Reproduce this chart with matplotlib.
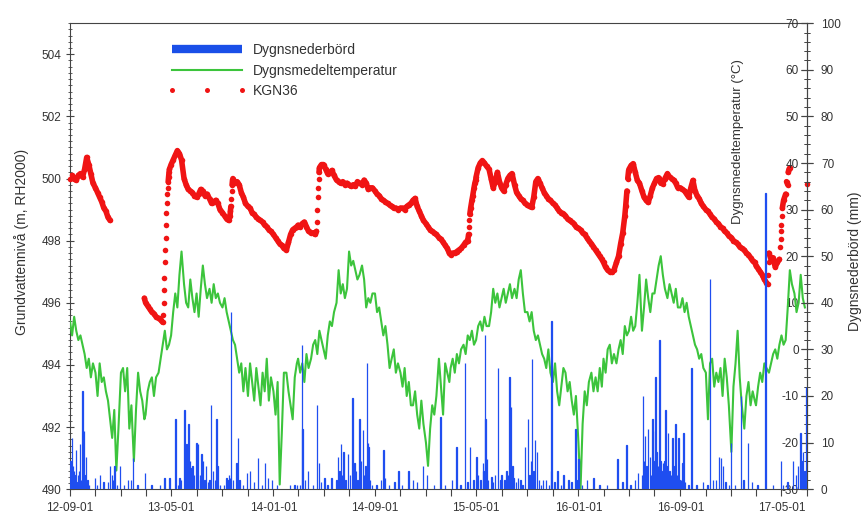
import numpy as np
import pandas as pd
import matplotlib
matplotlib.use("Agg")
import matplotlib.pyplot as plt
import matplotlib.dates as mdates
from matplotlib.lines import Line2D
from matplotlib.ticker import MultipleLocator, FixedLocator

plt.rcParams['font.family'] = ['Liberation Sans', 'DejaVu Sans']
plt.rcParams['axes.unicode_minus'] = False

nan = np.nan
SLOT_DAYS = [1, 6, 11, 16, 21, 26]   # six readings per month

# Dygnsmedeltemperatur (°C), rows = months
temp_2012 = [
    6, 3, 7, 4, 2, 3,
    1, -1, -4, -2, -6, -3,
    -5, -10, -3, -7, -6, -9,
    -11, -15, -19, -13, -26, -17,
]
temp_2013 = [
    -5, -4, -9, -4, -17, -12,
    -24, -13, -5, -9, -11, -15,
    -14, -9, -7, -6, -10, -6,
    -5, -2, 1, 4, 0, 1,
    3, 8, 12, 9, 16, 21,
    14, 10, 9, 15, 11, 8,
    12, 7, 13, 18, 14, 11,
    13, 10, 14, 11, 12, 10,
    9, 11, 8, 6, 4, 2,
    1, -2, -5, -3, -9, -4,
    -10, -3, -7, -11, -4, -8,
    -12, -5, -9, -2, -11, -6,
]
temp_2014 = [
    -9, -14, -7, -29, -18, -5,
    -5, -9, -12, -15, -6, -3,
    -2, -5, -3, -7, -1, -4,
    -2, 1, 2, -1, 4, 2,
    0, -2, 3, 6, 5, 8,
    10, 17, 12, 14, 11, 13,
    21, 18, 19, 17, 15, 16,
    18, 15, 9, 11, 10, 12,
    12, 8, 9, 6, 3, 5,
    1, -4, -2, 0, -5, -3,
    -5, -8, -4, -10, -7, -12,
    -12, -9, -14, -17, -11, -16,
]
temp_2015 = [
    -20, -25, -17, -12, -14, -10,
    -2, -8, -14, -3, -5, -7,
    -4, -2, -5, -1, -3, 0,
    1, -1, 3, 2, 4, 1,
    2, 5, 6, 4, 7, 5,
    5, 8, 13, 10, 12, 9,
    11, 13, 10, 12, 14, 11,
    13, 11, 15, 17, 12, 8,
    8, 6, 8, 4, 2, 3,
    1, -1, -2, -4, 0, -5,
    -7, -3, -9, -12, -8, -4,
    -5, -9, -7, -11, -14, -10,
]
temp_2016 = [
    -20, -30, -16, -9, -12, -7,
    -5, -9, -6, -9, -4, -8,
    -2, -5, 0, 1, -3, -1,
    -3, 0, 2, -1, 5, 3,
    4, 7, 4, 5, 10, 16,
    4, 9, 15, 11, 8, 12,
    12, 15, 18, 20, 16, 13,
    11, 14, 12, 10, 13, 9,
    9, 11, 8, 10, 7, 5,
    3, 1, 0, -2, -1, -4,
    -5, -15, -3, -2, -8, -5,
    -7, -4, -10, -2, -6, -12,
]
temp_2017 = [
    -22, -8, -3, 4, -6, -12,
    -17, -10, -7, -12, -9, -11,
    -12, -8, -5, -7, -3, -4,
    -5, -3, -1, 0, -2, 1,
    3, 1, 2, 9, 17, 14,
    12, 8, 10, 16, 11, 9,
]

# KGN36 grundvattennivå (m, RH2000), rows = months, nan = no data
level_2012 = [
    500.0, 500.1, 500.0, 499.95, 500.1, 500.16,
    500.05, 500.3, 500.68, 500.45, 500.15, 499.85,
    499.7, 499.55, 499.4, 499.25, 499.05, 498.95,
    498.75, 498.65, nan, nan, nan, nan,
]
level_2013 = [
    nan, nan, nan, nan, nan, nan,
    nan, nan, nan, nan, nan, 496.15,
    496.0, 495.9, 495.8, 495.7, 495.65, 495.55,
    495.5, 495.45, 495.37, 497.3, 499.2, 500.2,
    500.45, 500.6, 500.75, 500.9, 500.8, 500.6,
    500.0, 499.8, 499.65, 499.6, 499.55, 499.45,
    499.4, 499.5, 499.65, 499.6, 499.45, 499.5,
    499.35, 499.2, 499.25, 499.3, 499.2, 499.0,
    498.9, 498.8, 498.7, 498.65, 499.1, 500.0,
    499.85, 499.9, 499.8, 499.55, 499.4, 499.2,
    499.1, 499.05, 498.9, 498.85, 498.75, 498.7,
    498.65, 498.6, 498.5, 498.45, 498.35, 498.3,
]
level_2014 = [
    498.2, 498.1, 498.0, 497.9, 497.85, 497.75,
    497.7, 497.95, 498.2, 498.35, 498.4, 498.45,
    498.5, 498.45, 498.55, 498.6, 498.45, 498.3,
    498.25, 498.25, 498.2, 499.0, 500.35, 500.45,
    500.45, 500.3, 500.15, 500.2, 500.26, 500.1,
    499.95, 499.9, 499.85, 499.9, 499.8, 499.85,
    499.8, 499.75, 499.8, 499.75, 499.9, 499.85,
    499.8, 499.95, 499.85, 499.65, 499.7, 499.7,
    499.6, 499.5, 499.45, 499.35, 499.3, 499.25,
    499.2, 499.15, 499.1, 499.05, 499.05, 499.0,
    499.05, 499.05, 499.0, 499.1, 499.15, 499.2,
    499.3, 499.36, 499.1, 498.95, 498.8, 498.65,
]
level_2015 = [
    498.55, 498.45, 498.35, 498.3, 498.25, 498.2,
    498.1, 498.05, 497.95, 497.85, 497.75, 497.6,
    497.55, 497.6, 497.6, 497.65, 497.7, 497.75,
    497.85, 497.95, 498.0, 498.85, 499.3, 499.7,
    500.05, 500.35, 500.5, 500.58, 500.5, 500.4,
    500.3, 500.0, 499.7, 499.9, 500.2, 499.9,
    499.7, 499.6, 499.8, 500.0, 500.1, 500.16,
    499.8, 499.55, 499.45, 499.35, 499.3, 499.2,
    499.15, 499.1, 499.07, 499.4, 499.9, 500.0,
    499.85, 499.7, 499.55, 499.45, 499.35, 499.3,
    499.2, 499.15, 499.05, 498.95, 498.9, 498.87,
    498.8, 498.7, 498.65, 498.6, 498.55, 498.45,
]
level_2016 = [
    498.4, 498.35, 498.25, 498.2, 498.1, 498.0,
    497.9, 497.8, 497.7, 497.6, 497.5, 497.4,
    497.3, 497.15, 497.05, 497.0, 496.98, 497.05,
    497.3, 497.5, 497.9, 498.25, 498.8, 499.6,
    500.3, 500.42, 500.48, 500.2, 499.94, 499.85,
    499.6, 499.4, 499.3, 499.23, 499.45, 499.7,
    499.85, 500.0, 500.03, 499.85, 499.84, 500.0,
    500.16, 500.05, 500.0, 499.95, 499.85, 499.7,
    499.7, 499.65, 499.6, 499.5, 499.4, 499.7,
    499.94, 499.6, 499.45, 499.35, 499.2, 499.1,
    499.0, 498.95, 498.85, 498.75, 498.7, 498.6,
    498.55, 498.45, 498.4, 498.3, 498.25, 498.15,
]
level_2017 = [
    498.1, 498.0, 497.95, 497.9, 497.8, 497.75,
    497.7, 497.6, 497.55, 497.45, 497.35, 497.3,
    497.2, 497.1, 497.0, 496.9, 496.75, 496.65,
    497.6, 497.4, 497.45, 497.15, 497.3, 497.4,
    498.5, 499.3, 499.5, 499.8, 500.35, nan,
    nan, nan, nan, nan, nan, nan,
]

# extra logger readings during the fast rises
level_extra = [
    ("2013-04-12", 495.6), ("2013-04-13", 496.0), ("2013-04-14", 496.4),
    ("2013-04-15", 496.8), ("2013-04-17", 497.7), ("2013-04-18", 498.1),
    ("2013-04-19", 498.5), ("2013-04-20", 498.9), ("2013-04-22", 499.5),
    ("2013-04-23", 499.7), ("2013-04-24", 499.9), ("2013-04-25", 500.05),
    ("2013-04-27", 500.3),
    ("2013-09-19", 498.8), ("2013-09-20", 498.95), ("2013-09-22", 499.35),
    ("2013-09-23", 499.6), ("2013-09-24", 499.8), ("2013-09-25", 499.95),
    ("2014-04-14", 498.3), ("2014-04-15", 498.6), ("2014-04-17", 499.4),
    ("2014-04-18", 499.7), ("2014-04-19", 500.0), ("2014-04-20", 500.2),
    ("2015-04-13", 498.2), ("2015-04-14", 498.45), ("2015-04-15", 498.65),
    ("2015-04-18", 499.05), ("2015-04-23", 499.45), ("2015-04-28", 499.85),
    ("2015-04-30", 499.95),
    ("2016-04-23", 499.1), ("2016-04-28", 500.0), ("2016-04-30", 500.25),
    ("2017-03-29", 496.6), ("2017-03-30", 496.9), ("2017-03-31", 497.3),
    ("2017-04-28", 497.8), ("2017-04-29", 498.05), ("2017-04-30", 498.3),
    ("2017-05-02", 498.8), ("2017-05-03", 499.05), ("2017-05-13", 499.9),
    ("2017-05-17", 500.2), ("2017-05-19", 500.3), ("2017-07-01", 499.84),
]

# Dygnsnederbörd (mm), (month-day, mm) per year
rain_2012 = [
    ("09-02", 6), ("09-03", 2), ("09-06", 11), ("09-08", 5), ("09-10", 4),
    ("09-12", 3), ("09-15", 8.5), ("09-17", 1.5), ("09-20", 3), ("09-22", 4),
    ("09-25", 9.6), ("09-28", 2), ("10-01", 21), ("10-04", 12.5), ("10-06", 3),
    ("10-09", 7), ("10-13", 2), ("10-16", 1), ("10-31", 2.4), ("11-05", 1),
    ("11-12", 3), ("11-20", 1.5), ("12-01", 1.5), ("12-06", 5), ("12-10", 3),
    ("12-13", 2), ("12-17", 5), ("12-22", 1), ("12-30", 5),
]
rain_2013 = [
    ("01-08", 1), ("01-18", 2), ("01-25", 2), ("01-30", 6.7), ("02-10", 1),
    ("02-28", 3.5), ("03-15", 1), ("04-05", 1), ("04-15", 2.5), ("04-27", 2.5),
    ("05-12", 15), ("05-17", 1), ("05-21", 2.5), ("05-25", 2), ("06-02", 17),
    ("06-05", 3), ("06-07", 9.6), ("06-09", 2), ("06-12", 14), ("06-15", 6),
    ("06-19", 4.6), ("06-21", 5), ("06-25", 3), ("07-01", 10), ("07-03", 2),
    ("07-05", 9.6), ("07-09", 3), ("07-13", 7.5), ("07-17", 6), ("07-20", 2),
    ("07-24", 5), ("07-28", 1.5), ("08-01", 2), ("08-04", 18), ("08-10", 4),
    ("08-14", 2), ("08-18", 15), ("08-20", 5), ("08-26", 1), ("09-05", 1),
    ("09-11", 2.3), ("09-13", 2), ("09-16", 3), ("09-19", 2.5), ("09-21", 38),
    ("09-26", 2), ("10-05", 5.7), ("10-08", 11), ("10-12", 2), ("10-20", 1),
    ("10-30", 3.5), ("11-06", 4), ("11-15", 1.5), ("11-25", 6.7), ("12-05", 1),
    ("12-12", 5.6), ("12-19", 2.5), ("12-28", 2),
]
rain_2014 = [
    ("01-10", 1), ("02-10", 1), ("02-20", 1), ("02-27", 1), ("03-05", 1),
    ("03-10", 31), ("03-12", 13), ("03-17", 2), ("03-24", 4), ("04-05", 1),
    ("04-15", 18), ("04-20", 5.6), ("04-25", 1.5), ("05-03", 2.5), ("05-10", 1),
    ("05-20", 2.5), ("06-01", 2), ("06-04", 7), ("06-08", 4), ("06-11", 9.6),
    ("06-14", 3), ("06-18", 8), ("06-22", 2), ("06-28", 7.5), ("07-03", 3),
    ("07-09", 19.5), ("07-14", 5.6), ("07-18", 4), ("07-21", 2), ("07-26", 15),
    ("07-30", 6), ("08-03", 12.7), ("08-06", 3), ("08-09", 5), ("08-13", 27),
    ("08-15", 10), ("08-17", 9), ("08-20", 2), ("08-25", 1), ("09-05", 1),
    ("09-15", 2), ("09-21", 8.4), ("09-25", 2.5), ("10-05", 1), ("10-18", 1.5),
    ("10-27", 4), ("11-05", 1), ("11-20", 4), ("12-01", 2), ("12-10", 1.5),
    ("12-25", 5),
]
rain_2015 = [
    ("01-03", 3), ("01-20", 1), ("02-05", 15.5), ("02-15", 1), ("03-05", 2),
    ("03-15", 9), ("03-25", 1), ("04-04", 27), ("04-10", 1.5), ("04-16", 9),
    ("04-25", 2), ("05-02", 7), ("05-06", 3), ("05-12", 2), ("05-17", 5.7),
    ("05-19", 4), ("05-22", 33), ("05-24", 15), ("05-27", 6.4), ("05-30", 2),
    ("06-07", 2.6), ("06-10", 1.5), ("06-15", 3), ("06-22", 26), ("06-28", 2),
    ("07-01", 3), ("07-08", 2), ("07-13", 4), ("07-17", 3), ("07-20", 24),
    ("07-24", 17.6), ("07-27", 5), ("07-30", 2.5), ("08-04", 1.5), ("08-09", 2.5),
    ("08-15", 2), ("08-20", 1), ("08-26", 9), ("09-02", 15), ("09-06", 3),
    ("09-09", 6), ("09-12", 28), ("09-15", 4), ("09-19", 10.5), ("09-24", 8),
    ("09-28", 2), ("10-03", 1), ("10-08", 2), ("10-15", 2), ("10-22", 1),
    ("10-27", 4), ("10-29", 36), ("11-05", 1.5), ("11-12", 4), ("11-20", 1),
    ("11-26", 3), ("12-08", 2), ("12-15", 1.5), ("12-25", 13), ("12-30", 2),
]
rain_2016 = [
    ("01-01", 6.4), ("01-10", 1), ("01-22", 2), ("02-06", 2.3), ("02-20", 1),
    ("03-10", 1), ("04-03", 6.5), ("04-15", 1.5), ("04-25", 9.4), ("05-05", 1),
    ("05-15", 2), ("05-23", 3.5), ("06-01", 3), ("06-04", 20), ("06-06", 6),
    ("06-09", 11.5), ("06-12", 5), ("06-16", 13), ("06-20", 7), ("06-23", 3),
    ("06-26", 15), ("06-28", 12.5), ("07-01", 6), ("07-03", 24), ("07-06", 8),
    ("07-09", 5), ("07-13", 32), ("07-15", 6), ("07-18", 4), ("07-22", 5.6),
    ("07-25", 6), ("07-27", 17), ("07-30", 5), ("08-03", 12), ("08-06", 4),
    ("08-10", 3), ("08-13", 11), ("08-16", 5), ("08-20", 14), ("08-24", 3),
    ("08-27", 11), ("08-30", 2), ("09-03", 2), ("09-06", 5.6), ("09-08", 12),
    ("09-12", 1.5), ("09-20", 1), ("09-28", 26), ("10-10", 1), ("10-25", 1.5),
    ("11-05", 1), ("11-11", 45), ("11-18", 2), ("11-25", 2), ("12-02", 7),
    ("12-07", 6.6), ("12-12", 5), ("12-18", 1.5), ("12-26", 1), ("12-31", 10),
]
rain_2017 = [
    ("01-10", 1), ("01-24", 20), ("01-30", 2), ("02-10", 10), ("02-20", 1.5),
    ("03-05", 1), ("03-24", 63.5), ("04-10", 1), ("04-30", 6), ("05-05", 1),
    ("05-15", 1.5), ("05-28", 6), ("06-05", 3), ("06-10", 5), ("06-15", 12),
    ("06-18", 6), ("06-22", 8), ("06-25", 4), ("06-29", 22),
]

x_start, x_end = "2012-09-01", "2017-07-01"


def month_grid(first_month, n_months):
    months = pd.date_range(first_month, periods=n_months, freq="MS")
    return [m + pd.Timedelta(days=d - 1) for m in months for d in SLOT_DAYS]


grid_dates = month_grid("2012-09-01", 58)
temp = np.array(temp_2012 + temp_2013 + temp_2014 + temp_2015 + temp_2016 + temp_2017, float)
level = np.array(level_2012 + level_2013 + level_2014 + level_2015 + level_2016 + level_2017, float)

kgn = pd.Series(level, index=pd.DatetimeIndex(grid_dates))
extra = pd.Series([v for _, v in level_extra], index=pd.to_datetime([d for d, _ in level_extra]))
kgn = pd.concat([kgn, extra]).sort_index().dropna()

rain = []
for year, rows in [(2012, rain_2012), (2013, rain_2013), (2014, rain_2014),
                   (2015, rain_2015), (2016, rain_2016), (2017, rain_2017)]:
    rain += [(pd.Timestamp(f"{year}-{md}"), mm) for md, mm in rows]
rain_dates = [d for d, _ in rain]
rain_mm = [mm for _, mm in rain]

RED = "#f01414"
GREEN = "#3cc43c"
BLUE = "#1f4ef0"
AXC = "#444444"
TXT = "#333333"

fig = plt.figure(figsize=(8.64, 5.16), dpi=100)
ax = fig.add_axes([0.081, 0.052, 0.853, 0.903])
ax_t = ax.twinx()
ax_p = ax.twinx()

# groundwater level: logger dots, joined where the level changes slowly
steps = np.abs(np.diff(kgn.values))
gaps = np.diff(kgn.index.values).astype("timedelta64[D]").astype(int)
breaks = np.where((steps / gaps > 0.18) | (gaps > 10))[0] + 1
for idx in np.split(np.arange(len(kgn)), breaks):
    ax.plot(kgn.index[idx], kgn.values[idx], color=RED, linewidth=4.0,
            solid_capstyle="round", solid_joinstyle="round", zorder=3)
ax.plot(kgn.index, kgn.values, linestyle="none", marker="o", markersize=4.0,
        markeredgewidth=0, color=RED, clip_on=False, zorder=3)
ax.set_ylim(490, 505)
ax.set_xlim(pd.Timestamp(x_start), pd.Timestamp(x_end))
ax.set_yticks([490, 492, 494, 496, 498, 500, 502, 504])
ax.yaxis.set_minor_locator(MultipleLocator(0.2))
ax.set_ylabel("Grundvattennivå (m, RH2000)", fontsize=10, color=TXT)
ax.yaxis.set_label_coords(-0.055, 0.53)

major_dates = pd.date_range(x_start, x_end, freq="8MS")
ax.xaxis.set_major_locator(FixedLocator(mdates.date2num(major_dates)))
ax.xaxis.set_minor_locator(mdates.MonthLocator(bymonth=(1, 3, 5, 7, 9, 11)))
ax.xaxis.set_major_formatter(mdates.DateFormatter("%y-%m-%d"))
ax.tick_params(axis="x", which="both", direction="out", length=5, width=0.8,
               color=AXC, labelsize=8.5, labelcolor=TXT, pad=4)
ax.tick_params(axis="y", which="major", direction="inout", length=6, width=0.8,
               color=AXC, labelsize=8.5, labelcolor=TXT, pad=3)
ax.tick_params(axis="y", which="minor", direction="inout", length=3.5, width=0.6, color=AXC)
for side in ("left", "bottom", "top"):
    ax.spines[side].set_color(AXC)
    ax.spines[side].set_linewidth(0.8)
ax.spines["right"].set_visible(False)

# temperature, scale drawn inside the right edge
ax_t.plot(grid_dates, temp, color=GREEN, linewidth=1.5, zorder=2)
ax_t.set_ylim(-30, 70)
ax_t.yaxis.set_major_locator(MultipleLocator(10))
ax_t.yaxis.set_minor_locator(MultipleLocator(2))
ax_t.yaxis.set_ticks_position("left")
ax_t.yaxis.set_label_position("left")
for side in ("right", "top", "bottom"):
    ax_t.spines[side].set_visible(False)
ax_t.spines["left"].set_position(("axes", 1.0))
ax_t.spines["left"].set_color(AXC)
ax_t.spines["left"].set_linewidth(0.8)
ax_t.tick_params(axis="y", which="major", direction="inout", length=8, width=0.8,
                 color=AXC, labelsize=8.5, labelcolor=TXT, pad=2)
ax_t.tick_params(axis="y", which="minor", direction="inout", length=5, width=0.6, color=AXC)
ax_t.set_ylabel("Dygnsmedeltemperatur (°C)", fontsize=9.5, color=TXT)
ax_t.yaxis.set_label_coords(0.915, 0.745)

# precipitation bars
ax_p.bar(rain_dates, rain_mm, width=1.0, color=BLUE, edgecolor=BLUE,
         linewidth=0.9, align="center", zorder=4)
ax_p.set_ylim(0, 100)
ax_p.yaxis.set_major_locator(MultipleLocator(10))
ax_p.yaxis.set_minor_locator(MultipleLocator(2))
for side in ("left", "top", "bottom"):
    ax_p.spines[side].set_visible(False)
ax_p.spines["right"].set_color(AXC)
ax_p.spines["right"].set_linewidth(0.8)
ax_p.tick_params(axis="y", which="major", direction="inout", length=8, width=0.8,
                 color=AXC, labelsize=8.5, labelcolor=TXT, pad=6)
ax_p.tick_params(axis="y", which="minor", direction="inout", length=5, width=0.6, color=AXC)
ax_p.set_ylabel("Dygnsnederbörd (mm)", fontsize=10, color=TXT)
ax_p.yaxis.set_label_coords(1.055, 0.49)

handles = [
    Line2D([], [], color="#1a4fe8", linewidth=6, solid_capstyle="butt"),
    Line2D([], [], color=GREEN, linewidth=1.5),
    Line2D([], [], color=RED, linestyle="none", marker="o", markersize=3.6,
           markeredgewidth=0),
]
leg = ax_p.legend(handles, ["Dygnsnederbörd", "Dygnsmedeltemperatur", "KGN36"],
                  loc="upper left", bbox_to_anchor=(0.133, 0.957), frameon=False,
                  fontsize=10, handlelength=5.6, handletextpad=0.5, numpoints=3,
                  labelspacing=0.45, borderpad=0, borderaxespad=0)
for t in leg.get_texts():
    t.set_color(TXT)

fig.savefig("out.png", dpi=100)
